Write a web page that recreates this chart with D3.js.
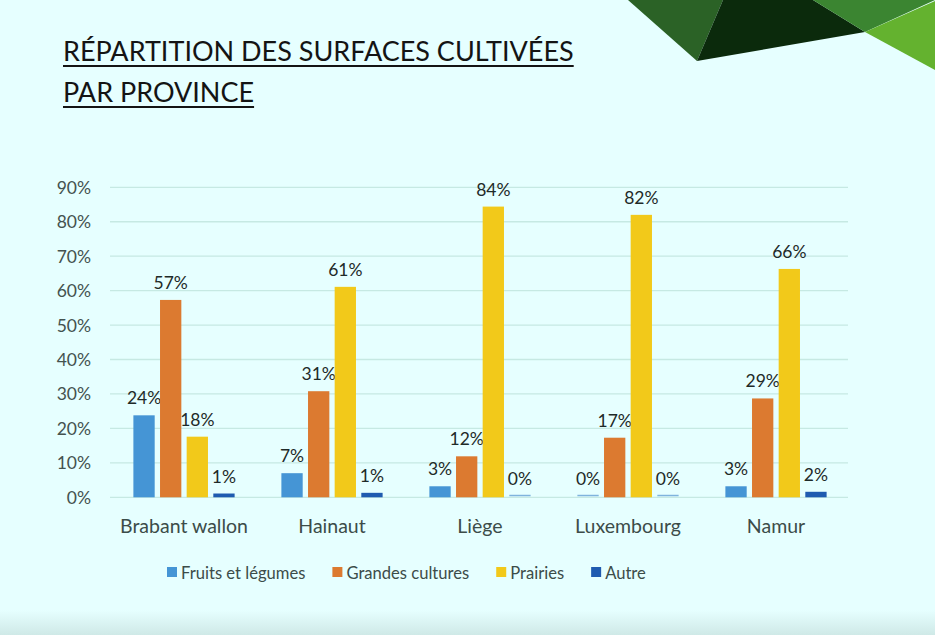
<!DOCTYPE html>
<html>
<head>
<meta charset="utf-8">
<script src="https://cdn.jsdelivr.net/npm/d3@7"></script>
<style>
  html, body { margin: 0; padding: 0; background: #e6ffff; }
  svg { display: block; }
</style>
</head>
<body>
<svg id="chart" width="935" height="635"></svg>
<script>
const titleLines = ["RÉPARTITION DES SURFACES CULTIVÉES", "PAR PROVINCE"];
const provinces = ["Brabant wallon", "Hainaut", "Liège", "Luxembourg", "Namur"];
const seriesNames = ["Fruits et légumes", "Grandes cultures", "Prairies", "Autre"];
const fruitsLegumes = [0.238, 0.070, 0.032, 0.003, 0.032];
const grandesCultures = [0.573, 0.308, 0.119, 0.173, 0.287];
const prairies = [0.176, 0.611, 0.844, 0.820, 0.663];
const autre = [0.011, 0.013, 0.003, 0.003, 0.016];
const yTicks = [0, 0.1, 0.2, 0.3, 0.4, 0.5, 0.6, 0.7, 0.8, 0.9];
const colors = ["#4595d5", "#dc7a30", "#f2c91a", "#1f5bb0"];

const seriesValues = [fruitsLegumes, grandesCultures, prairies, autre];
const svg = d3.select("#chart");
const W = 935, H = 635;
const font = "Lato, 'Open Sans', sans-serif";

// background + bottom fade
const defs = svg.append("defs");
const grad = defs.append("linearGradient").attr("id", "bottomFade").attr("x1", 0).attr("x2", 0).attr("y1", 0).attr("y2", 1);
grad.append("stop").attr("offset", "0%").attr("stop-color", "#e6ffff");
grad.append("stop").attr("offset", "100%").attr("stop-color", "#cfe9e7");
svg.append("rect").attr("width", W).attr("height", H).attr("fill", "#e6ffff");
svg.append("rect").attr("x", 0).attr("y", 610).attr("width", W).attr("height", 25).attr("fill", "url(#bottomFade)");

// decorative polygons top-right
const deco = [
  { pts: [[628,0],[723,0],[697,61]], fill: "#2b6226" },
  { pts: [[723,0],[813,0],[865,32],[697,61]], fill: "#0b2a0c" },
  { pts: [[813,0],[935,0],[865,32]], fill: "#3b8531" },
  { pts: [[865,32],[935,1],[935,70]], fill: "#64b22f" }
];
svg.selectAll("polygon.deco").data(deco).join("polygon")
  .attr("class", "deco")
  .attr("points", d => d.pts.map(p => p.join(",")).join(" "))
  .attr("fill", d => d.fill);

// title
const title = svg.append("g");
titleLines.forEach((t, i) => {
  const y = 61 + i * 41;
  const txt = title.append("text")
    .attr("x", 63).attr("y", y)
    .attr("font-family", font).attr("font-size", 27)
    .attr("fill", "#141414")
    .text(t);
  const w = txt.node().getComputedTextLength();
  title.append("rect").attr("x", 63).attr("y", y + 4).attr("width", w).attr("height", 2).attr("fill", "#141414");
});

// scales
const x0 = d3.scaleBand().domain(provinces).range([110, 850]).paddingInner(0.28).paddingOuter(0.14);
const x1 = d3.scaleBand().domain(seriesNames).range([0, x0.bandwidth()]).paddingInner(0.2).paddingOuter(0.1);
const y = d3.scaleLinear().domain([0, 0.9]).range([497.3, 187.3]);

// gridlines
svg.append("g").selectAll("line").data(yTicks).join("line")
  .attr("x1", 110).attr("x2", 848)
  .attr("y1", d => y(d)).attr("y2", d => y(d))
  .attr("stroke", "#c6e9e3").attr("stroke-width", 1.3);

// y axis labels
const yAxis = d3.axisLeft(y).tickValues(yTicks).tickFormat(d3.format(".0%")).tickSize(0).tickPadding(0);
const yg = svg.append("g").attr("transform", "translate(91,0)").call(yAxis);
yg.select(".domain").remove();
yg.selectAll("text").attr("font-family", font).attr("font-size", 17.5).attr("fill", "#44524f").attr("dy", "0.34em");

// x axis labels
const xAxis = d3.axisBottom(x0).tickSize(0).tickPadding(0);
const xg = svg.append("g").attr("transform", "translate(0,518)").call(xAxis);
xg.select(".domain").remove();
xg.selectAll("text").attr("font-family", font).attr("font-size", 19.5).attr("fill", "#3c4c49").attr("dy", "0.75em");

// bars
const fmt = d3.format(".0%");
const groups = svg.append("g").selectAll("g").data(provinces).join("g")
  .attr("transform", d => `translate(${x0(d)},0)`);
const cells = groups.selectAll("g.cell")
  .data((p, pi) => seriesNames.map((s, si) => ({ s, si, v: seriesValues[si][pi] })))
  .join("g").attr("class", "cell");
cells.append("rect")
  .attr("x", d => x1(d.s)).attr("width", x1.bandwidth())
  .attr("y", d => y(d.v)).attr("height", d => Math.max(1.5, y(0) - y(d.v)))
  .attr("transform", d => d.v < 0.005 ? "translate(0,-1.5)" : null)
  .attr("fill", d => d.v < 0.005 ? "#7fb3dd" : colors[d.si]);
cells.append("text")
  .attr("x", d => x1(d.s) + x1.bandwidth() / 2)
  .attr("y", d => y(d.v) - 11)
  .attr("text-anchor", "middle")
  .attr("font-family", font).attr("font-size", 17.5).attr("fill", "#1e2a28")
  .text(d => fmt(d.v));

// legend
const legend = svg.append("g").attr("transform", "translate(167,573)");
let lx = 0;
seriesNames.forEach((s, i) => {
  legend.append("rect").attr("x", lx).attr("y", -6).attr("width", 10).attr("height", 10).attr("fill", colors[i]);
  const t = legend.append("text").attr("x", lx + 14).attr("y", 0).attr("dy", "0.36em")
    .attr("font-family", font).attr("font-size", 16.6).attr("fill", "#3c4c49").text(s);
  lx += 14 + t.node().getComputedTextLength() + 27;
});
</script>
</body>
</html>
